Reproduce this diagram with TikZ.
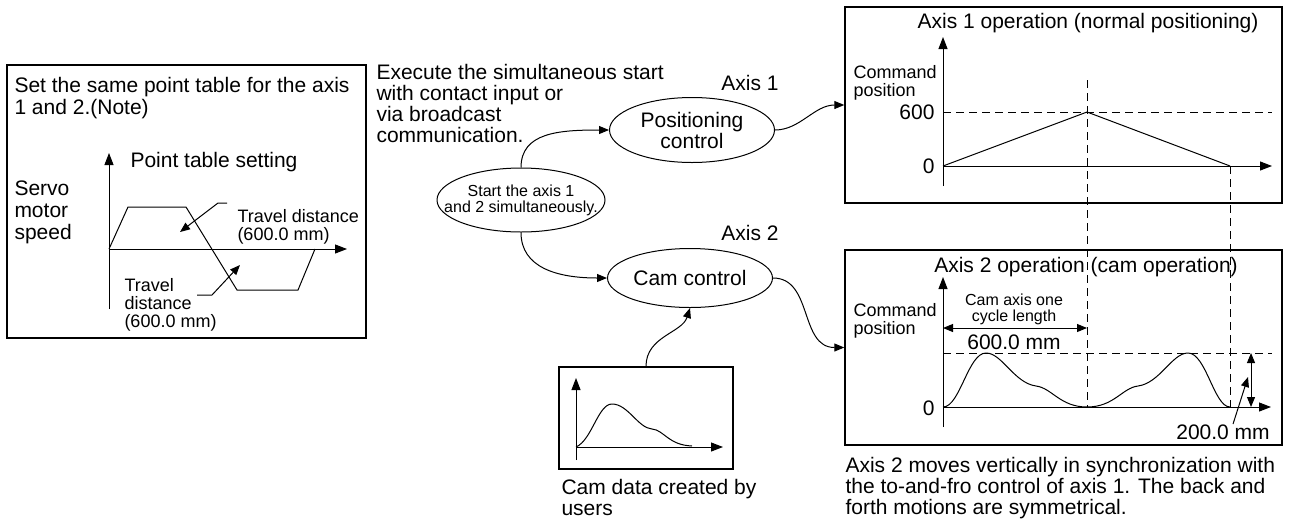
\documentclass[tikz,border=0pt]{standalone}
\usepackage{fontspec}
\setmainfont{Liberation Sans}
\usetikzlibrary{positioning,fit,arrows.meta,shapes.geometric}

\begin{document}
\begin{tikzpicture}[
    x=0.5pt, y=-0.5pt,
    font=\fontsize{10.5}{10.5}\selectfont,
    line width=0.5pt,
    panel/.style={draw, line width=0.7pt, inner sep=0pt},
    oval/.style={draw, ellipse, inner sep=0pt, align=center},
    txt/.style={inner sep=0pt, align=left, anchor=north west},
    lbl/.style={inner sep=0pt},
    small/.style={font=\fontsize{8}{8}\selectfont},
    mid/.style={font=\fontsize{9}{9}\selectfont},
    arrow/.style={-{Triangle[length=5pt,width=4pt]}},
    axis/.style={-{Triangle[length=6pt,width=4.5pt]}},
    both/.style={{Triangle[length=5pt,width=4pt]}-{Triangle[length=5pt,width=4pt]}},
    guide/.style={dash pattern=on 4pt off 2.5pt}
]
\useasboundingbox (0,0) rectangle (1293,520);

% ------------------------------------------------------------
% point table (left)
% ------------------------------------------------------------
\node[panel, fit={(7,65) (366,338)}] (table) {};
\node[txt, font=\fontsize{10.5}{9}\selectfont] (note) at (14,77) {Set the same point table for the axis\\1 and 2.(Note)};
\node[txt] (ptset) at (130,152) {Point table setting};
\node[txt, font=\fontsize{10.5}{11}\selectfont] (servo) at (14,180) {Servo\\motor\\speed};
\node[txt, mid] (dist1) at (237,209) {Travel distance\\(600.0 mm)};
\node[txt, mid] (dist2) at (124,278) {Travel\\distance\\(600.0 mm)};

\draw[axis] (109,309) -- (109,153);
\draw[axis] (109,249) -- (347,249);
\draw (109,249) -- (128,207) -- (186,207) -- (237,290) -- (298,290) -- (315,249);

\coordinate (fwd) at (180,232);
\coordinate (rev) at (240,265);
\draw[arrow] ([shift={(-10,-6)}]dist1.north west) -- ++(-9,0) -- (fwd);
\draw[arrow] ([shift={(73,17)}]dist2.north west) -- ++(15,0) -- (rev);

% ------------------------------------------------------------
% start and control
% ------------------------------------------------------------
\node[txt] (exec) at (376,64) {Execute the simultaneous start\\with contact input or\\via broadcast\\communication.};
\node[oval, small, minimum width=84pt, minimum height=32pt, inner xsep=-10pt] (start) at (521,200) {Start the axis 1\\and 2 simultaneously.};
\node[oval, minimum width=82.5pt, minimum height=32.5pt] (posctl) at (692,130) {Positioning\\control};
\node[oval, minimum width=82.5pt, minimum height=29.5pt] (camctl) at (690,278) {Cam control};
\node[lbl] (ax1) at (750,83) {Axis 1};
\node[lbl] (ax2) at (750,233) {Axis 2};

\draw[arrow] (start.north) .. controls +(0,-35) and +(-50,0) .. (posctl.west);
\draw[arrow] (start.south) .. controls +(0,35) and +(-50,0) .. (camctl.west);

% ------------------------------------------------------------
% cam data
% ------------------------------------------------------------
\node[panel, fit={(559,367) (733,469)}] (camdata) {};
\draw[axis] (576,460) -- (576,378);
\draw[axis] (576,447) -- (723,447);
\draw (576,447) .. controls (592,440) and (598,404) .. (612,404)
      .. controls (628,404) and (638,428) .. (652,429)
      .. controls (664,430) and (668,445) .. (692,446);
\node[txt] (users) at (561,479) {Cam data created by\\users};

\draw[arrow] (camdata.north) .. controls +(0,-30) and +(-8,25) .. (camctl.south);

% ------------------------------------------------------------
% axis 1 operation
% ------------------------------------------------------------
\node[panel, fit={(845,7) (1282,203)}] (op1) {};
\node[lbl] (op1title) at (1088,23) {Axis 1 operation (normal positioning)};
\node[txt, mid] (cmd1) at (853,65) {Command\\position};
\node[lbl, anchor=east] (top1) at (935,112) {600};
\node[lbl, anchor=east] (zero1) at (935,166) {0};
\draw[axis] (943,186) -- (943,37);
\draw[axis] (943,166) -- (1272,166);
\draw[guide] (943,112) -- (1272,112);
\draw (943,166) -- (1087,112) -- (1230,166);

\draw[arrow] (posctl.east) .. controls +(25,0) and +(-30,0) .. (op1.west);

% ------------------------------------------------------------
% axis 2 operation
% ------------------------------------------------------------
\node[panel, fit={(845,250) (1282,445)}] (op2) {};
\node[lbl] (op2title) at (1086,267) {Axis 2 operation (cam operation)};
\node[txt, mid] (cmd2) at (853,303) {Command\\position};
\node[lbl, anchor=east] (zero2) at (935,408) {0};
\draw[axis] (943,427) -- (943,277);
\draw[axis] (943,407) -- (1271,407);
\draw[guide] (943,353) -- (1272,353);
\draw[both] (943,328) -- (1087,328);
\node[lbl, small, align=center] (cycle) at (1014,309) {Cam axis one\\cycle length};
\node[lbl] (len) at (1014,342) {600.0 mm};
\draw (943,407) .. controls (960,407) and (968,353) .. (986,353)
      .. controls (1002,353) and (1014,383) .. (1036,386)
      .. controls (1052,388) and (1060,407) .. (1087,407)
      .. controls (1114,407) and (1122,388) .. (1138,386)
      .. controls (1160,383) and (1172,353) .. (1188,353)
      .. controls (1206,353) and (1214,407) .. (1230,407);
\draw[both] (1251,353) -- (1251,407);
\node[lbl] (stroke) at (1223,432) {200.0 mm};
\coordinate (strk) at (1248,377);
\draw[arrow] ([xshift=5pt]stroke.north) -- (strk);

\draw[arrow] (camctl.east) .. controls +(40,0) and +(-45,0) .. (op2.west);

% guides through both panels
\draw[guide] (1087,80) -- (1087,407);
\draw[guide] (1230,166) -- (1230,407);

\node[txt] (caption) at (845,457) {Axis 2 moves vertically in synchronization with\\the to-and-fro control of axis 1. The back and\\forth motions are symmetrical.};

\end{tikzpicture}
\end{document}
